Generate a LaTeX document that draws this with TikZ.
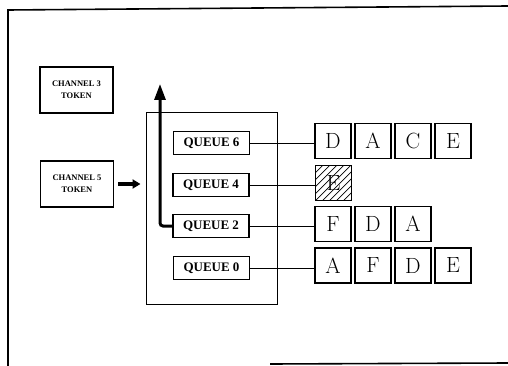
\documentclass[tikz,border=0pt]{standalone}
\usepackage{fontspec}
\newfontfamily\lsfont{Liberation Serif}
\usetikzlibrary{arrows.meta}
\begin{document}
\begin{tikzpicture}[x=1pt,y=-1pt,
  frame/.style={line width=1.6pt},
  chan/.style={draw, line width=1.2pt, minimum width=73pt, minimum height=46pt, inner sep=0pt, align=center,
    font=\lsfont\bfseries\fontsize{8.5}{12}\selectfont},
  queue/.style={draw, line width=1.1pt, minimum width=76pt, minimum height=23.5pt, inner sep=0pt,
    font=\lsfont\bfseries\fontsize{13}{13}\selectfont},
  bigbox/.style={draw, line width=1pt, minimum width=131pt, minimum height=191pt, inner sep=0pt},
  letter/.style={draw, line width=1.1pt, minimum width=36pt, minimum height=35pt, inner sep=0pt,
    font=\fontsize{22}{22}\selectfont},
  hatched/.style={path picture={
    \foreach \i in {-42,-35,...,42}
      \draw[line width=0.7pt] ([xshift=\i pt]path picture bounding box.south west) -- ++(42,-42);}},
  link/.style={line width=0.9pt},
  bigarrow/.style={line width=3pt, rounded corners=3pt, -{Triangle[length=16pt,width=11pt]}},
  smallarrow/.style={line width=4pt, -{Triangle[length=8pt,width=9pt]}, shorten <=4pt, shorten >=5pt}
]
\useasboundingbox (0,0) rectangle (508,366);
% outer frame
\coordinate (f1) at (8,366);
\coordinate (f2) at (8,10);
\coordinate (f3) at (508,6);
\coordinate (f4) at (270,364);
\coordinate (f5) at (508,363);
\draw[frame] (f1) -- (f2) -- (f3);
\draw[frame] (f4) -- (f5);

\node[chan] (ch3) at (76.5,90) {CHANNEL 3\\TOKEN};
\node[chan] (ch5) at (77,184) {CHANNEL 5\\TOKEN};

\node[bigbox] (big) at (211.5,208.5) {};

\node[queue] (q6) at (211.5,143) {QUEUE 6};
\node[queue] (q4) at (211,185) {QUEUE 4};
\node[queue] (q2) at (211,226) {QUEUE 2};
\node[queue] (q0) at (211.5,268) {QUEUE 0};

% letter rows
\node[letter] (a1) at (333,141) {D};
\node[letter] (a2) at (373,141) {A};
\node[letter] (a3) at (413,141) {C};
\node[letter] (a4) at (453,141) {E};

\node[letter,hatched] (b1) at (333.5,183) {E};

\node[letter] (c1) at (333,224) {F};
\node[letter] (c2) at (373,224) {D};
\node[letter] (c3) at (413,224) {A};

\node[letter] (d1) at (333,265.5) {A};
\node[letter] (d2) at (373,265.5) {F};
\node[letter] (d3) at (413,265.5) {D};
\node[letter] (d4) at (453,265.5) {E};

% connectors
\draw[link] (q6.east) -- (q6.east -| a1.west);
\draw[link] (q4.east) -- (q4.east -| b1.west);
\draw[link] (q2.east) -- (q2.east -| c1.west);
\draw[link] (q0.east) -- (q0.east -| d1.west);

% arrows
\coordinate (top) at (160,84);
\draw[bigarrow] (q2.west) -| (top);
\draw[smallarrow] (ch5.east) -- (ch5.east -| big.west);
\end{tikzpicture}
\end{document}
